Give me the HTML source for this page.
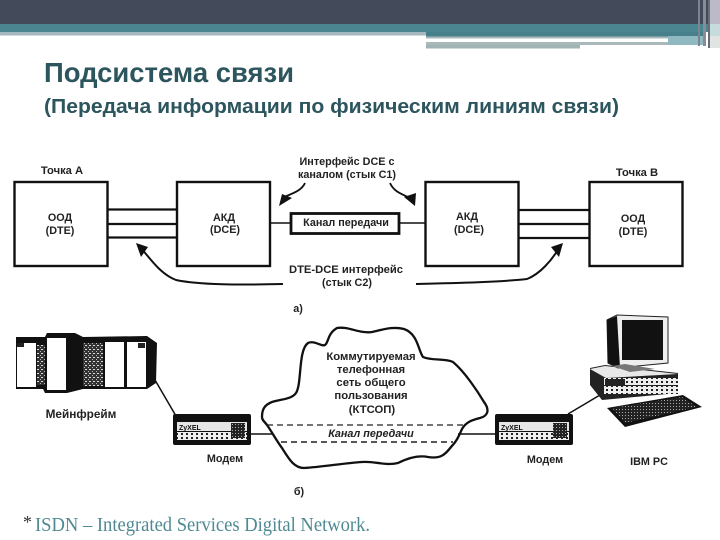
<!DOCTYPE html>
<html><head><meta charset="utf-8"><style>
html,body{margin:0;padding:0;background:#fff;width:720px;height:540px;overflow:hidden}
svg{display:block}
.t{font-family:"Liberation Sans",sans-serif;font-weight:bold;font-size:10.8px;fill:#222;text-anchor:middle}
</style></head><body>
<svg width="720" height="540" viewBox="0 0 720 540" xmlns="http://www.w3.org/2000/svg">
<defs>
<pattern id="n1" width="4" height="4" patternUnits="userSpaceOnUse"><rect width="4" height="4" fill="#333"/><rect width="2" height="1" x="1" y="1" fill="#ddd"/><rect width="1" height="1" x="0" y="3" fill="#bbb"/></pattern>
<pattern id="n2" width="3" height="3" patternUnits="userSpaceOnUse"><rect width="3" height="3" fill="#222"/><rect width="1" height="1" x="1" y="1" fill="#aaa"/></pattern>
<pattern id="n3" width="5" height="4" patternUnits="userSpaceOnUse"><rect width="5" height="4" fill="#eee"/><rect width="2" height="2" x="1" y="1" fill="#222"/></pattern>
</defs>

<!-- header -->
<rect x="0" y="0" width="720" height="24" fill="#434a5a"/>
<rect x="0" y="24" width="720" height="8" fill="#4a8590"/>
<rect x="0" y="32" width="426" height="3.5" fill="#a5b8c0"/>
<rect x="426" y="32" width="280" height="4.5" fill="#47808b"/>
<rect x="426" y="36.5" width="242" height="2" fill="#a8b8b8"/>
<rect x="426" y="42" width="242" height="3" fill="#a9b8b8"/>
<rect x="426" y="45" width="154" height="3.5" fill="#a0b4b6"/>
<rect x="668" y="36" width="38" height="9" fill="#8fb8c0"/>
<rect x="698" y="0" width="2" height="46" fill="#7d8590"/>
<rect x="703" y="0" width="3" height="46" fill="#888c98"/>
<rect x="708" y="0" width="2" height="48" fill="#666e78"/>
<rect x="710" y="0" width="10" height="24" fill="#bcb9c8"/>
<rect x="710" y="24" width="10" height="12" fill="#c6dcdc"/>
<rect x="710" y="36" width="10" height="12" fill="#e2e4e4"/>

<!-- titles -->
<text x="44" y="82" textLength="250" lengthAdjust="spacingAndGlyphs" font-family="Liberation Sans, sans-serif" font-weight="bold" font-size="28" fill="#2c555e">Подсистема связи</text>
<text x="44" y="113" textLength="575" lengthAdjust="spacingAndGlyphs" font-family="Liberation Sans, sans-serif" font-weight="bold" font-size="20" fill="#2c555e">(Передача информации по физическим линиям связи)</text>

<!-- diagram a -->
<g fill="none" stroke="#111">
<rect x="14.5" y="182" width="93" height="84" stroke-width="2.4"/>
<rect x="177" y="182" width="93" height="84" stroke-width="2.4"/>
<rect x="425.500" y="182" width="93" height="84" stroke-width="2.4"/>
<rect x="589.500" y="182" width="93" height="84" stroke-width="2.4"/>
<rect x="291" y="213.500" width="108" height="20" stroke-width="2.800"/>
<path d="M108 209.500H177M108 224H177M108 237.500H177M519 210H589M519 224H589M519 238H589" stroke-width="2.200"/>
<path d="M270 223H290M400 223H425" stroke-width="1.500"/>
<path d="M283 284C240 285 200 285 176 280C160 274 150 258 140 247" stroke-width="2"/>
<path d="M416 284C460 283 500 282 527 279C540 274 552 260 559 248" stroke-width="2"/>
<path d="M305 183C302 190 294 193 284 197" stroke-width="1.800"/>
<path d="M390 183C394 192 402 194 410 198" stroke-width="1.800"/>
</g>
<g fill="#111">
<polygon points="136,243 148,247 141,257"/>
<polygon points="563,243 551,247 559,257"/>
<polygon points="279,206 282,194 292,198"/>
<polygon points="415,206 404,197 416,193"/>
</g>
<text class="t" x="62" y="174" style="font-size:11.2px">Точка А</text>
<text class="t" x="637" y="176" style="font-size:11.2px">Точка В</text>
<text class="t" x="60" y="221">ООД</text>
<text class="t" x="60" y="234">(DTE)</text>
<text class="t" x="224" y="221">АКД</text>
<text class="t" x="225" y="233">(DCE)</text>
<text class="t" x="467" y="220">АКД</text>
<text class="t" x="469" y="233">(DCE)</text>
<text class="t" x="633" y="222">ООД</text>
<text class="t" x="633" y="235">(DTE)</text>
<text class="t" x="347" y="165">Интерфейс DCE с</text>
<text class="t" x="347" y="178">каналом (стык C1)</text>
<text class="t" x="346" y="226">Канал передачи</text>
<text class="t" x="346" y="273" style="font-size:11.2px">DTE-DCE интерфейс</text>
<text class="t" x="347" y="286">(стык C2)</text>
<text class="t" x="298" y="312">а)</text>

<!-- mainframe -->
<polygon points="16,337 45,337 47,333 75,333 83,337 147,336 157,343 156,383 147,389 83,389 67,393 45,393 43,389 16,389" fill="#111"/>
<rect x="17" y="343" width="19" height="44" fill="#fff"/>
<rect x="17" y="343" width="7" height="4" fill="#222"/>
<rect x="47" y="338" width="19" height="52" fill="#fff"/>
<rect x="105" y="342" width="19" height="45" fill="#fff"/>
<rect x="127" y="342" width="19" height="45" fill="#fff"/>
<rect x="138" y="343" width="7" height="5" fill="#222"/>
<rect x="37" y="345" width="8" height="40" fill="url(#n1)"/>
<rect x="83" y="343" width="20" height="43" fill="url(#n1)"/>
<path d="M155 380L176 416" stroke="#111" stroke-width="1.500" fill="none"/>
<text class="t" x="81" y="418" style="font-size:11.8px">Мейнфрейм</text>

<!-- modems -->
<rect x="173" y="414" width="78" height="31" rx="2" fill="#111"/>
<rect x="177" y="422" width="70" height="9" fill="#e6e6e6"/>
<text x="179" y="430" font-family="Liberation Sans, sans-serif" font-weight="bold" font-size="7" fill="#111">ZyXEL</text>
<rect x="177" y="432" width="70" height="8" fill="url(#n3)"/>
<rect x="231" y="423" width="14" height="15" fill="url(#n2)"/>
<rect x="495" y="414" width="78" height="31" rx="2" fill="#111"/>
<rect x="499" y="422" width="70" height="9" fill="#e6e6e6"/>
<text x="501" y="430" font-family="Liberation Sans, sans-serif" font-weight="bold" font-size="7" fill="#111">ZyXEL</text>
<rect x="499" y="432" width="70" height="8" fill="url(#n3)"/>
<rect x="553" y="423" width="14" height="15" fill="url(#n2)"/>
<text class="t" x="225" y="462">Модем</text>
<text class="t" x="545" y="463">Модем</text>
<text class="t" x="649" y="465">IBM PC</text>
<text class="t" x="299" y="495">б)</text>

<!-- cloud -->
<path d="M262 417C262 410 264 405 272 402C282 399 292 399 296 393C302 384 298 350 308 343C314 340 322 347 325 345C329 342 327 334 337 328C348 326 360 334 372 332C382 330 392 326 404 329C418 334 418 350 423 357C432 361 445 358 453 362C465 372 478 392 484 402C490 410 488 416 480 418C472 420 466 422 462 429C458 438 456 442 451 447C445 455 440 459 428 457C418 455 408 458 398 463C385 466 375 461 362 462C345 463 322 467 304 468C294 468 289 459 282 448C276 440 272 432 267 425C264 421 262 420 262 417Z" fill="#fff" stroke="#111" stroke-width="2.300"/>
<path d="M267 425H463" stroke="#222" stroke-width="1.300" stroke-dasharray="6 4" fill="none"/>
<path d="M281 442H453" stroke="#222" stroke-width="1.500" stroke-dasharray="6 4" fill="none"/>
<path d="M251 434H272M458 434H495" stroke="#111" stroke-width="1.500" fill="none"/>
<text class="t" x="371" y="360" style="font-size:11.3px">Коммутируемая</text>
<text class="t" x="371" y="373" style="font-size:11.3px">телефонная</text>
<text class="t" x="371" y="386" style="font-size:11.3px">сеть общего</text>
<text class="t" x="371" y="399" style="font-size:11.3px">пользования</text>
<text class="t" x="372" y="413" style="font-size:11.3px">(КТСОП)</text>
<text class="t" x="371" y="437" style="font-style:italic">Канал передачи</text>

<!-- PC -->
<path d="M568 414L600 395" stroke="#111" stroke-width="1.500" fill="none"/>
<polygon points="590,368 605,365 678,373 678,393 602,400 590,385" fill="#222"/>
<polygon points="590,369 605,366 678,374 606,378" fill="#e8e8e8"/>
<rect x="604" y="378" width="74" height="7" fill="url(#n3)"/>
<rect x="604" y="386" width="74" height="8" fill="url(#n3)"/>
<rect x="605" y="379" width="20" height="6" fill="#222"/>
<polygon points="607,320 617,315 668,317 668,363 618,368 608,363" fill="#eee" stroke="#222"/>
<polygon points="607,320 617,316 620,368 608,363" fill="#111"/>
<rect x="622" y="320" width="41" height="40" fill="#111"/>
<polygon points="612,366 625,364 655,369 630,372" fill="#777"/>
<polygon points="607,408 683,395 702,407 625,427" fill="#111"/>
<polygon points="612,408 682,397 697,407 625,423" fill="url(#n2)"/>

<!-- footer -->
<text x="23" y="528" font-family="Liberation Serif, serif" font-size="18" fill="#333">*</text>
<text x="35" y="531" textLength="335" lengthAdjust="spacingAndGlyphs" font-family="Liberation Serif, serif" font-size="20" fill="#4f8a92">ISDN – Integrated Services Digital Network.</text>
</svg>
</body></html>
